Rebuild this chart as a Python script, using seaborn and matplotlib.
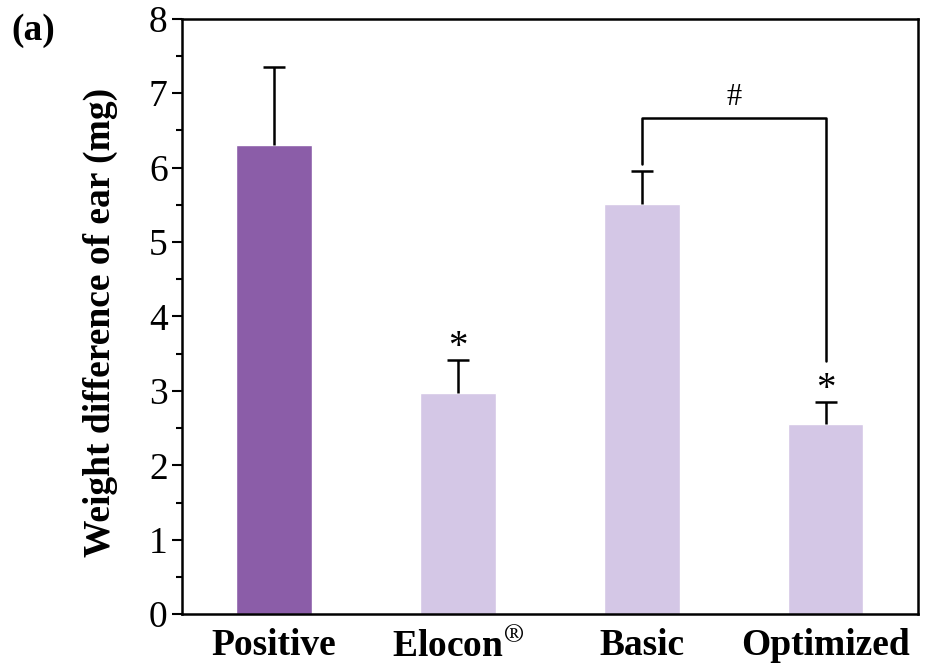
import matplotlib
matplotlib.use("Agg")
import matplotlib.pyplot as plt
from matplotlib.ticker import MultipleLocator
import seaborn as sns
import pandas as pd

# data
groups = ["Positive", "Elocon$^{\\circledR}$", "Basic", "Optimized"]
means = [6.30, 2.97, 5.51, 2.55]
errs = [1.05, 0.44, 0.44, 0.30]
colors = ["#8B5DA8", "#D4C7E6", "#D4C7E6", "#D4C7E6"]
stars = ["", "*", "", "*"]

sns.set_style("ticks")
plt.rcParams["font.family"] = ["Liberation Serif", "DejaVu Serif"]
plt.rcParams["mathtext.fontset"] = "stix"
plt.rcParams["text.color"] = "black"
plt.rcParams["axes.labelcolor"] = "black"
plt.rcParams["xtick.color"] = "black"
plt.rcParams["ytick.color"] = "black"
plt.rcParams["axes.edgecolor"] = "black"

df = pd.DataFrame({"group": groups, "mean": means})

fig, ax = plt.subplots(figsize=(9.25, 6.69), dpi=100)
fig.subplots_adjust(left=0.197, right=0.992, top=0.972, bottom=0.082)

sns.barplot(data=df, x="group", y="mean", hue="group", palette=colors,
            width=0.41, legend=False, ax=ax, saturation=1, zorder=2)
eb = ax.errorbar(range(len(groups)), means, yerr=[[0] * 4, errs], fmt="none",
                 ecolor="black", elinewidth=1.8, capsize=8, capthick=1.8, zorder=3)
# only upper caps
eb[1][0].remove()

for i, s in enumerate(stars):
    if s:
        y = means[i] + errs[i] - 0.08
        ax.text(i, y, s, ha="center", va="bottom", fontsize=28)

# bracket Basic vs Optimized
yb = 6.67
ax.plot([2, 2, 3, 3], [means[2] + errs[2] + 0.1, yb, yb, means[3] + errs[3] + 0.55],
        color="black", lw=1.8)
ax.text(2.5, yb + 0.08, "#", ha="center", va="bottom", fontsize=22)

ax.set_xlim(-0.5, 3.5)
ax.set_ylim(0, 8)
ax.yaxis.set_major_locator(MultipleLocator(1))
ax.yaxis.set_minor_locator(MultipleLocator(0.5))
ax.tick_params(axis="y", which="major", direction="out", length=7, width=1.5, labelsize=27)
ax.tick_params(axis="y", which="minor", direction="out", length=4, width=1.5)
ax.tick_params(axis="x", length=0, labelsize=27, pad=10)
for lab in ax.get_xticklabels():
    lab.set_fontweight("bold")
for sp in ax.spines.values():
    sp.set_linewidth(1.8)
    sp.set_visible(True)

ax.set_xlabel("")
ax.set_ylabel("Weight difference of ear (mg)", fontsize=27, fontweight="bold")
ax.yaxis.set_label_coords(-0.087, 0.49)
fig.text(0.012, 0.94, "(a)", fontsize=27, fontweight="bold")

fig.savefig("out.png", dpi=100)
